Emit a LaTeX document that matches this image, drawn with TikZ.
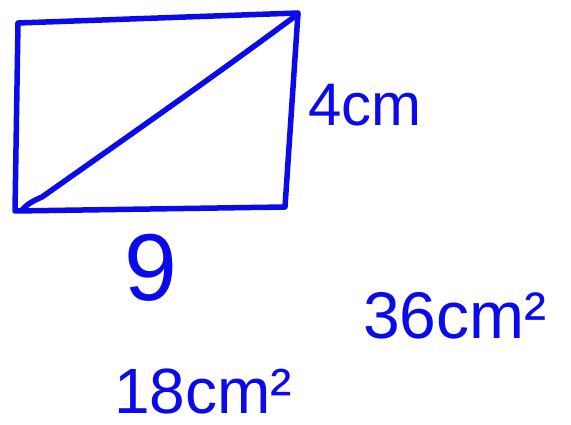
\documentclass[tikz,border=0pt]{standalone}
\usepackage{fontspec}
\setmainfont{Liberation Sans}
\definecolor{pen}{RGB}{10,10,235}
\begin{document}
\begin{tikzpicture}[x=1pt,y=-1pt,
  ink/.style={draw=pen,line width=5.5pt,line cap=round,line join=round},
  hand/.style={text=pen,inner sep=0pt,text depth=0pt,font=\fontsize{#1}{#1}\selectfont}]
\useasboundingbox (0,0) rectangle (571,425);
\draw[ink] (18,23) -- (298,13) -- (285,207) -- (15,211) -- cycle;
\draw[ink] (22,210) .. controls (27,204) and (33,201) .. (42,197) .. controls (130,135) and (220,72) .. (298,14);
\node[hand=60,anchor=base west] (a) at (308,126) {4cm};
\node[hand=95,anchor=base west] (b) at (124,301) {9};
\node[hand=66,anchor=base west] (c) at (363,338) {36cm²};
\node[hand=64,anchor=base west] (d) at (114,413) {18cm²};
\end{tikzpicture}
\end{document}
